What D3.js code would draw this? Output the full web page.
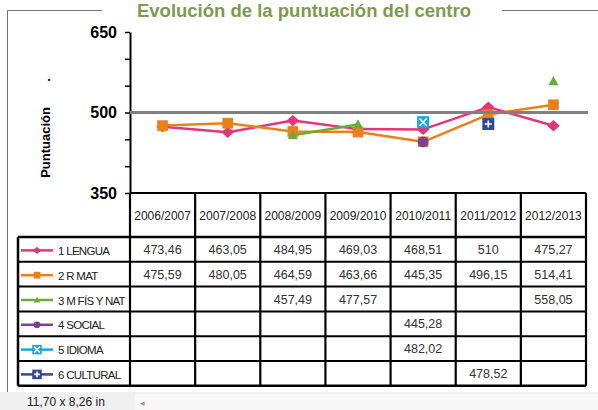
<!DOCTYPE html>
<html><head><meta charset="utf-8">
<script src="https://cdn.jsdelivr.net/npm/d3@7"></script>
<style>body{margin:0;background:#fff;overflow:hidden} svg{display:block}</style>
</head><body><script>
const categories = ["2006/2007","2007/2008","2008/2009","2009/2010","2010/2011","2011/2012","2012/2013"];
const seriesNames = ["1 LENGUA","2 R MAT","3 M FÍS Y NAT","4 SOCIAL","5 IDIOMA","6 CULTURAL"];
const lengua   = [473.46, 463.05, 484.95, 469.03, 468.51, 510, 475.27];
const rMat     = [475.59, 480.05, 464.59, 463.66, 445.35, 496.15, 514.41];
const mFisNat  = [null, null, 457.49, 477.57, null, null, 558.05];
const social   = [null, null, null, null, 445.28, null, null];
const idioma   = [null, null, null, null, 482.02, null, null];
const cultural = [null, null, null, null, null, 478.52, null];
const yTicks = [350, 400, 450, 500, 550, 600, 650];
const yTickLabels = [350, 500, 650];
const referenceValue = 500;
const title = "Evolución de la puntuación del centro";
const yTitle = "Puntuación       .";
const statusText = "11,70 x 8,26 in";

const seriesValues = [lengua, rMat, mFisNat, social, idioma, cultural];
const colors = ["#e3357a", "#ea801c", "#6aab3c", "#7d3f98", "#1aa6e0", "#30479a"];
const shapes = ["diamond", "square", "triangle", "circle", "xbox", "plusbox"];

const W = 598, H = 410;
const svg = d3.select("body").append("svg").attr("width", W).attr("height", H)
  .style("font-family", "'Liberation Sans', Arial, sans-serif");

const x = d3.scaleBand().domain(categories).range([130, 586]);
const y = d3.scaleLinear().domain([350, 650]).range([193, 32]);
const cx = d => x(d) + x.bandwidth() / 2;

svg.append("path").attr("d", "M7.5,392 V10.5 H102 M502,10.5 H598")
  .attr("fill", "none").attr("stroke", "#707070").attr("stroke-width", 1);

svg.append("text").attr("x", 304).attr("y", 17).attr("text-anchor", "middle")
  .attr("font-size", 18.5).attr("font-weight", "bold").attr("fill", "#7d9a4e").text(title);

svg.append("text").attr("transform", "translate(50,128) rotate(-90)").attr("text-anchor", "middle")
  .style("white-space", "pre")
  .attr("font-size", 13).attr("font-weight", "bold").attr("fill", "#000").text(yTitle);

const yAxis = d3.axisLeft(y).tickValues(yTicks).tickSize(5).tickSizeOuter(0).tickPadding(8)
  .tickFormat(d => yTickLabels.includes(d) ? d : "");
const ga = svg.append("g").attr("transform", "translate(130,0)").call(yAxis);
ga.select(".domain").attr("stroke", "#000").attr("stroke-width", 2);
ga.selectAll(".tick line").attr("stroke", "#000").attr("stroke-width", 1.5);
ga.selectAll(".tick text").attr("font-size", 16).attr("font-weight", "bold").attr("fill", "#000")
  .attr("font-family", "'Liberation Sans', Arial, sans-serif");

function marker(g, shape, color, px, py, s) {
  if (shape === "diamond") {
    g.append("path").attr("d", `M${px},${py - s * 0.9}L${px + s},${py}L${px},${py + s * 0.9}L${px - s},${py}Z`).attr("fill", color);
  } else if (shape === "square") {
    g.append("rect").attr("x", px - s * 0.85).attr("y", py - s * 0.85).attr("width", s * 1.7).attr("height", s * 1.7).attr("fill", color);
  } else if (shape === "triangle") {
    g.append("path").attr("d", `M${px},${py - s * 0.85}L${px + s * 0.8},${py + s * 0.6}L${px - s * 0.8},${py + s * 0.6}Z`).attr("fill", color);
  } else if (shape === "circle") {
    g.append("circle").attr("cx", px).attr("cy", py).attr("r", s * 0.85).attr("fill", color);
  } else if (shape === "xbox" || shape === "plusbox") {
    const h = s * 0.95;
    g.append("rect").attr("x", px - h).attr("y", py - h).attr("width", 2 * h).attr("height", 2 * h).attr("fill", color);
    const k = h * 0.6;
    const d = shape === "xbox"
      ? `M${px - k},${py - k}L${px + k},${py + k}M${px + k},${py - k}L${px - k},${py + k}`
      : `M${px - k},${py}L${px + k},${py}M${px},${py - k}L${px},${py + k}`;
    g.append("path").attr("d", d).attr("stroke", "#fff").attr("stroke-width", 1.6).attr("fill", "none");
  }
}

const plot = svg.append("g");
const line = d3.line().defined(d => d.v != null).x(d => cx(d.c)).y(d => y(d.v));
seriesValues.forEach((vals, i) => {
  const data = vals.map((v, j) => ({ c: categories[j], v }));
  plot.append("path").datum(data).attr("d", line).attr("fill", "none")
    .attr("stroke", colors[i]).attr("stroke-width", 2.5).attr("stroke-linejoin", "round");
});
seriesValues.forEach((vals, i) => {
  const g = plot.append("g");
  vals.forEach((v, j) => { if (v != null) marker(g, shapes[i], colors[i], cx(categories[j]), y(v), 6.3); });
});

svg.append("line").attr("x1", 130).attr("x2", 588).attr("y1", y(referenceValue)).attr("y2", y(referenceValue))
  .attr("stroke", "#808080").attr("stroke-width", 3.2);

const headerTop = 193, headerBottom = 237, rowH = 24.8, tableLeft = 18;
const rowY = i => headerBottom + i * rowH;
const tableBottom = rowY(seriesNames.length);
const fmt = v => Number.isInteger(v) ? String(v) : v.toFixed(2).replace(".", ",");

const tbl = svg.append("g");
categories.forEach(c => {
  tbl.append("text").attr("x", cx(c)).attr("y", 220).attr("text-anchor", "middle")
    .attr("font-size", 12).attr("fill", "#222").text(c);
});
seriesValues.forEach((vals, i) => {
  vals.forEach((v, j) => {
    if (v == null) return;
    tbl.append("text").attr("x", cx(categories[j])).attr("y", rowY(i) + rowH / 2 + 4.5)
      .attr("text-anchor", "middle").attr("font-size", 12.5).attr("fill", "#333").text(fmt(v));
  });
  const ly = rowY(i) + rowH / 2 + 1;
  const lg = tbl.append("g");
  lg.append("line").attr("x1", 21).attr("x2", 53).attr("y1", ly).attr("y2", ly)
    .attr("stroke", colors[i]).attr("stroke-width", 2.5);
  marker(lg, shapes[i], colors[i], 37, ly, i < 4 ? 4 : 5);
  tbl.append("text").attr("x", 58).attr("y", rowY(i) + rowH / 2 + 5.5).attr("font-size", 11.5)
    .attr("letter-spacing", -0.7).attr("fill", "#222").text(seriesNames[i]);
});
const gl = tbl.append("g").attr("stroke", "#000").attr("fill", "none");
gl.append("line").attr("x1", 130).attr("x2", 586).attr("y1", headerTop).attr("y2", headerTop).attr("stroke-width", 2);
const bounds = categories.map(c => x(c)).concat([x.range()[1]]);
bounds.forEach(b => {
  gl.append("line").attr("x1", b).attr("x2", b).attr("y1", headerTop).attr("y2", tableBottom).attr("stroke-width", 2.2);
});
for (let i = 0; i <= seriesNames.length; i++) {
  gl.append("line").attr("x1", tableLeft).attr("x2", 586).attr("y1", rowY(i)).attr("y2", rowY(i))
    .attr("stroke-width", i === 0 || i === seriesNames.length ? 2.5 : 2);
}
gl.append("line").attr("x1", tableLeft).attr("x2", tableLeft).attr("y1", rowY(0)).attr("y2", tableBottom).attr("stroke-width", 2.5);

svg.append("rect").attr("x", 0).attr("y", 392).attr("width", W).attr("height", 18).attr("fill", "#f0f0f0");
svg.append("rect").attr("x", 135).attr("y", 394).attr("width", W - 135).attr("height", 16).attr("fill", "#f7f7f7");
svg.append("text").attr("x", 27).attr("y", 406).attr("font-size", 12).attr("fill", "#222").text(statusText);
svg.append("text").attr("x", 140).attr("y", 406).attr("font-size", 9).attr("fill", "#999").text("◂");
</script></body></html>
